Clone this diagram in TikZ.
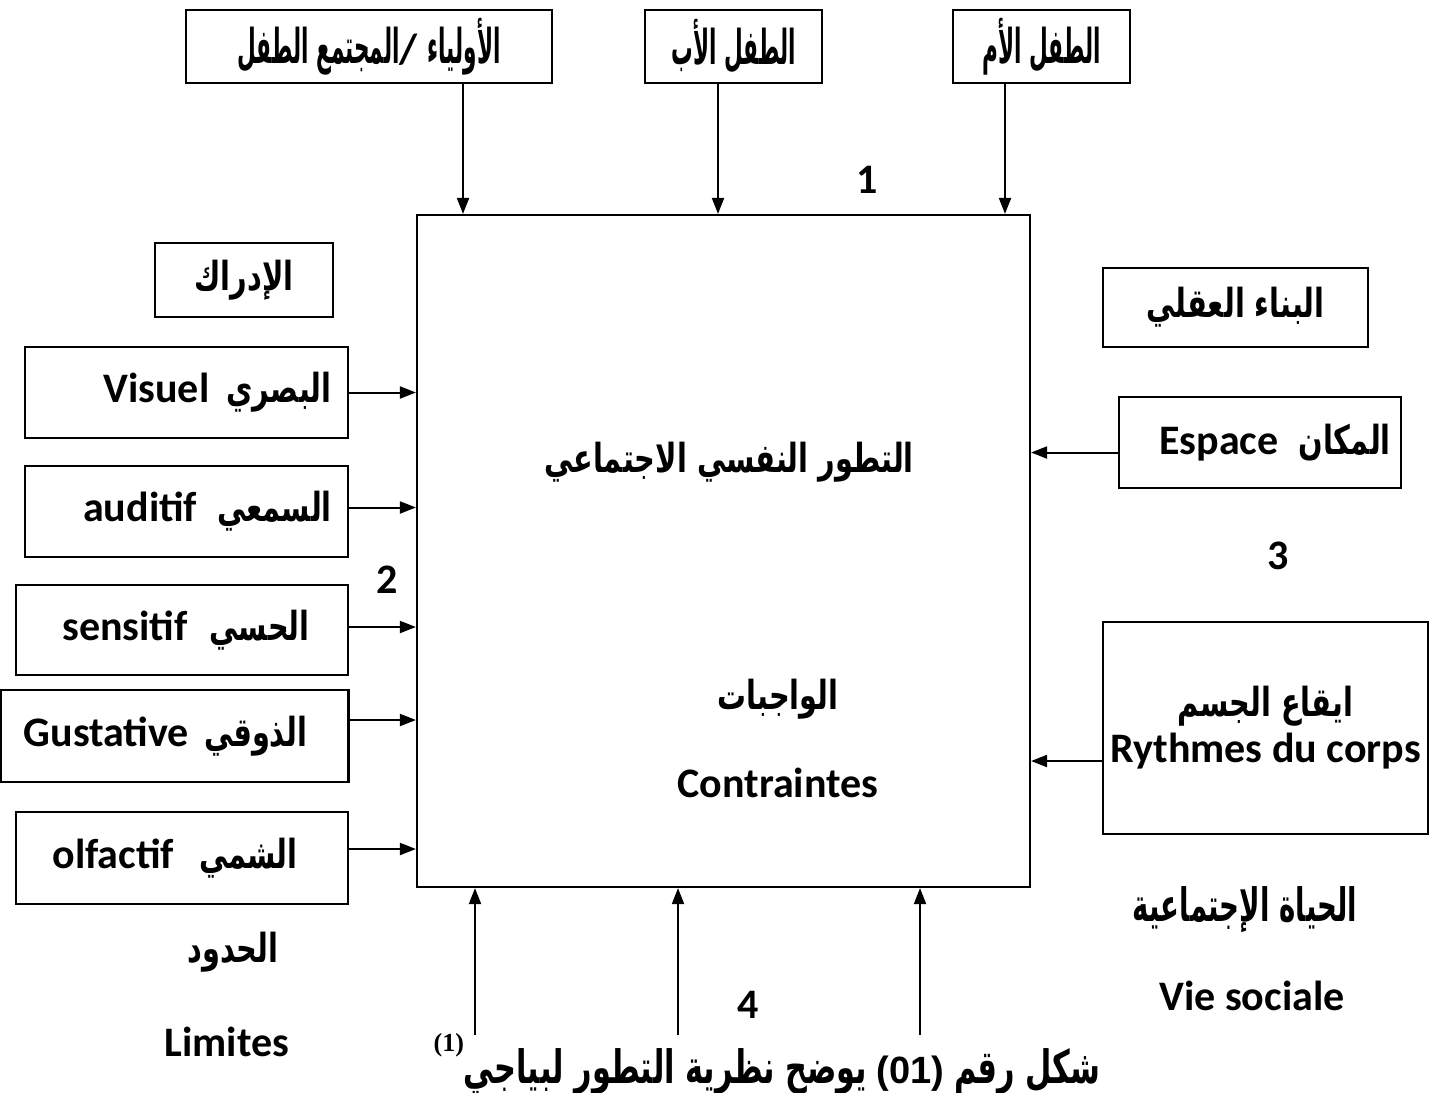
\documentclass[tikz,border=0pt]{standalone}
\usepackage{fontspec}
\setmainfont{Carlito}
\newfontfamily\arfont[Script=Arabic,FakeStretch=0.72]{DejaVu Sans}
\newfontfamily\arcond[Script=Arabic,FakeStretch=0.45]{DejaVu Sans}
\newfontfamily\arcap[Script=Arabic,FakeStretch=0.6]{DejaVu Sans}
\newfontfamily\arcapw[Script=Arabic,FakeStretch=0.66]{DejaVu Sans}
\newfontfamily\tmsfont{Liberation Serif}
\newfontfamily\lsfont{Liberation Sans}
\TeXXeTstate=1
\usetikzlibrary{arrows.meta}
\newcommand\AR[1]{{\arfont\bfseries\fontsize{20}{24}\selectfont\beginR #1\endR}}
\newcommand\ARC[1]{{\arcond\bfseries\fontsize{24}{28}\selectfont\beginR #1\endR}}
\newcommand\ARP[1]{{\arcap\bfseries\fontsize{23}{27}\selectfont\beginR #1\endR}}
\newcommand\ARW[1]{{\arcapw\bfseries\fontsize{23}{27}\selectfont\beginR #1\endR}}
\tikzset{
  box/.style={draw, line width=1.1pt, inner sep=0pt},
  arr/.style={line width=1pt, -{Triangle[length=8pt,width=6pt]}},
  lbl/.style={inner sep=0pt}
}
\begin{document}
\begin{tikzpicture}[x=0.5pt,y=-0.5pt,font=\bfseries\fontsize{21}{25}\selectfont]
\useasboundingbox (0,0) rectangle (1431,1093);
% top boxes
\node[box, minimum width=183pt, minimum height=36.5pt] (A) at (369,46.5) {\ARC{المجتمع الطفل}/ \ARC{الأولياء}};
\node[box, minimum width=88.5pt, minimum height=36.5pt] (B) at (733.5,46.5) {\ARC{الطفل الأب}};
\node[box, minimum width=88.5pt, minimum height=36.5pt] (C) at (1041.5,46.5) {\ARC{الطفل الأم}};
% main box
\node[box, minimum width=306.5pt, minimum height=336pt] (M) at (723.5,551) {};
\node[lbl] (t1) at (729,462) {\AR{التطور النفسي الاجتماعي}};
\node[lbl] (t2) at (778,699) {\AR{الواجبات}};
\node[lbl] (t3) at (778,783) {Contraintes};
% left
\node[box, minimum width=89pt, minimum height=37pt] (P) at (244,280) {\AR{الإدراك}};
\node[box, minimum width=161.5pt, minimum height=45.5pt] (L1) at (186.5,392.5) {\kern31pt Visuel\hspace{8.5pt}\AR{البصري}};
\node[box, minimum width=161.5pt, minimum height=45.5pt] (L2) at (186.5,511.5) {\kern21pt auditif\hspace{10pt}\AR{السمعي}};
\node[box, minimum width=166pt, minimum height=45pt] (L3) at (182,630) {\kern4pt sensitif\hspace{11pt}\AR{الحسي}};
\node[box, minimum width=174pt, minimum height=46pt] (L4) at (174.5,736) {Gustative\hspace{7.5pt}\AR{الذوقي}\kern9pt};
\node[box, minimum width=166pt, minimum height=46pt] (L5) at (182,858) {olfactif\hspace{12.5pt}\AR{الشمي}\kern7pt};
\node[lbl] (lim1) at (233,952) {\AR{الحدود}};
\node[lbl] (lim2) at (227,1042) {Limites};
% right
\node[box, minimum width=132.5pt, minimum height=39.5pt] (R0) at (1235.5,307.5) {\AR{البناء العقلي}};
\node[box, minimum width=141pt, minimum height=45.5pt] (R1) at (1260,442.5) {\kern15pt Espace\hspace{10pt}\AR{المكان}};
\node[box, minimum width=162.5pt, minimum height=106pt, align=center] (R2) at (1265.5,728) {\AR{ايقاع الجسم}\\[-2pt]Rythmes du corps};
\node[lbl] (soc1) at (1245,910) {\ARP{الحياة الإجتماعية}};
\node[lbl] (soc2) at (1252,996) {Vie sociale};
% numbers
\node[lbl] (n1) at (867,180) {1};
\node[lbl] (n2) at (387,580) {2};
\node[lbl] (n3) at (1278,556) {3};
\node[lbl] (n4) at (748,1005) {4};
% caption
\node[lbl] (cap) at (767,1064) {\raisebox{0.75em}{\tmsfont\bfseries\fontsize{13}{13}\selectfont(1)}\ARW{يوضح نظرية التطور لبياجي} {\lsfont\bfseries\fontsize{19}{22}\selectfont(01)} \ARW{شكل رقم}};
% arrows top
\draw[arr] ([xshift=47pt]A.south) -- ([xshift=47pt]A.south |- M.north);
\draw[arr] ([xshift=-7.75pt]B.south) -- ([xshift=-7.75pt]B.south |- M.north);
\draw[arr] ([xshift=-18.25pt]C.south) -- ([xshift=-18.25pt]C.south |- M.north);
% arrows left
\draw[arr] (L1.east) -- (L1.east -| M.west);
\draw[arr] ([yshift=2pt]L2.east) -- ([yshift=2pt]L2.east -| M.west);
\draw[arr] ([yshift=1.5pt]L3.east) -- ([yshift=1.5pt]L3.east -| M.west);
\draw[arr] ([yshift=8pt]L4.east) -- ([yshift=8pt]L4.east -| M.west);
\draw[arr] ([yshift=4.5pt]L5.east) -- ([yshift=4.5pt]L5.east -| M.west);
% arrows right
\draw[arr] ([yshift=-5pt]R1.west) -- ([yshift=-5pt]R1.west -| M.east);
\draw[arr] ([yshift=-16.5pt]R2.west) -- ([yshift=-16.5pt]R2.west -| M.east);
% arrows bottom
\coordinate (b1) at (475,1035);
\coordinate (b2) at (678,1035);
\coordinate (b3) at (920,1035);
\draw[arr] (b1) -- (b1 |- M.south);
\draw[arr] (b2) -- (b2 |- M.south);
\draw[arr] (b3) -- (b3 |- M.south);
\end{tikzpicture}
\end{document}
